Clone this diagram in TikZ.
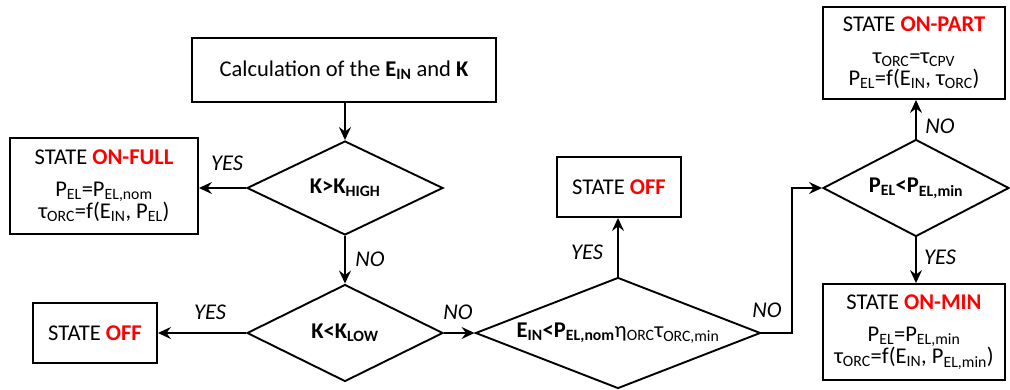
\documentclass[tikz,border=0pt]{standalone}
\usepackage{fontspec}
\setmainfont{Carlito}
\usetikzlibrary{arrows.meta,shapes.geometric}
\definecolor{stred}{RGB}{255,0,0}
\newcommand{\sbs}[1]{\textsubscript{#1}}
\newcommand{\st}[1]{\textcolor{stred}{\textbf{#1}}}
\begin{document}
\begin{tikzpicture}[x=1pt,y=-1pt,
  every node/.style={font=\fontsize{22.5}{22.5}\selectfont},
  box/.style={draw, line width=1.9pt, align=center, inner sep=0pt},
  dia/.style={draw, diamond, line width=1.9pt, inner sep=0pt},
  arr/.style={line width=1.9pt, -{Stealth[length=13pt,width=12pt,inset=4.5pt]}},
  lbl/.style={font=\fontsize{22.5}{22.5}\selectfont\itshape}]
\useasboundingbox (0,0) rectangle (1010,389);

\node[box, minimum width=304pt, minimum height=64pt] (calc) at (344,70) {Calculation of the \textbf{E\sbs{IN}} and \textbf{K}};
\node[dia, minimum width=196pt, minimum height=94pt, aspect=2.08] (d1) at (345,188) {\textbf{K>K\sbs{HIGH}}};
\node[box, minimum width=188pt, minimum height=96pt] (full) at (104,186) {STATE \st{ON-FULL}\\[9pt] P\sbs{EL}=P\sbs{EL,nom}\\ τ\sbs{ORC}=f(E\sbs{IN}, P\sbs{EL})};
\node[dia, minimum width=196pt, minimum height=97pt, aspect=2.02] (d2) at (345,333) {\textbf{K<K\sbs{LOW}}};
\node[box, minimum width=124pt, minimum height=60pt] (off1) at (95,333) {STATE \st{OFF}};
\node[dia, minimum width=285pt, minimum height=111pt, aspect=2.57] (d3) at (618,333) {\textbf{E\sbs{IN}<P\sbs{EL,nom}}η\sbs{ORC}τ\sbs{ORC,min}};
\node[box, minimum width=124pt, minimum height=60pt] (off2) at (619,187) {STATE \st{OFF}};
\node[dia, minimum width=186pt, minimum height=97pt, aspect=1.92] (d4) at (916,188) {\textbf{P\sbs{EL}<P\sbs{EL,min}}};
\node[box, minimum width=182pt, minimum height=92pt] (part) at (914,53) {STATE \st{ON-PART}\\[9pt] τ\sbs{ORC}=τ\sbs{CPV}\\ P\sbs{EL}=f(E\sbs{IN}, τ\sbs{ORC})};
\node[box, minimum width=182pt, minimum height=96pt] (min) at (914,332) {STATE \st{ON-MIN}\\[9pt] P\sbs{EL}=P\sbs{EL,min}\\ τ\sbs{ORC}=f(E\sbs{IN}, P\sbs{EL,min})};
\coordinate (bend) at (792,188);

\draw[arr] (calc.south -| d1.north) -- (d1.north);
\draw[arr] (d1.west) -- (full.east |- d1.west);
\draw[arr] (d1.south) -- (d2.north);
\draw[arr] (d2.west) -- (off1.east |- d2.west);
\draw[arr] (d2.east) -- (d3.west);
\draw[arr] (d3.north) -- (off2.south -| d3.north);
\draw[arr] (d3.east) -| (bend) -- (d4.west);
\draw[arr] (d4.north) -- (part.south -| d4.north);
\draw[arr] (d4.south) -- (min.north -| d4.south);

\node[lbl] (l1) at (227,163) {YES};
\node[lbl] (l2) at (370,259) {NO};
\node[lbl] (l3) at (210,312) {YES};
\node[lbl] (l4) at (458,312) {NO};
\node[lbl] (l5) at (587,252) {YES};
\node[lbl] (l6) at (767,310) {NO};
\node[lbl] (l7) at (940,126) {NO};
\node[lbl] (l8) at (940,257) {YES};
\end{tikzpicture}
\end{document}
